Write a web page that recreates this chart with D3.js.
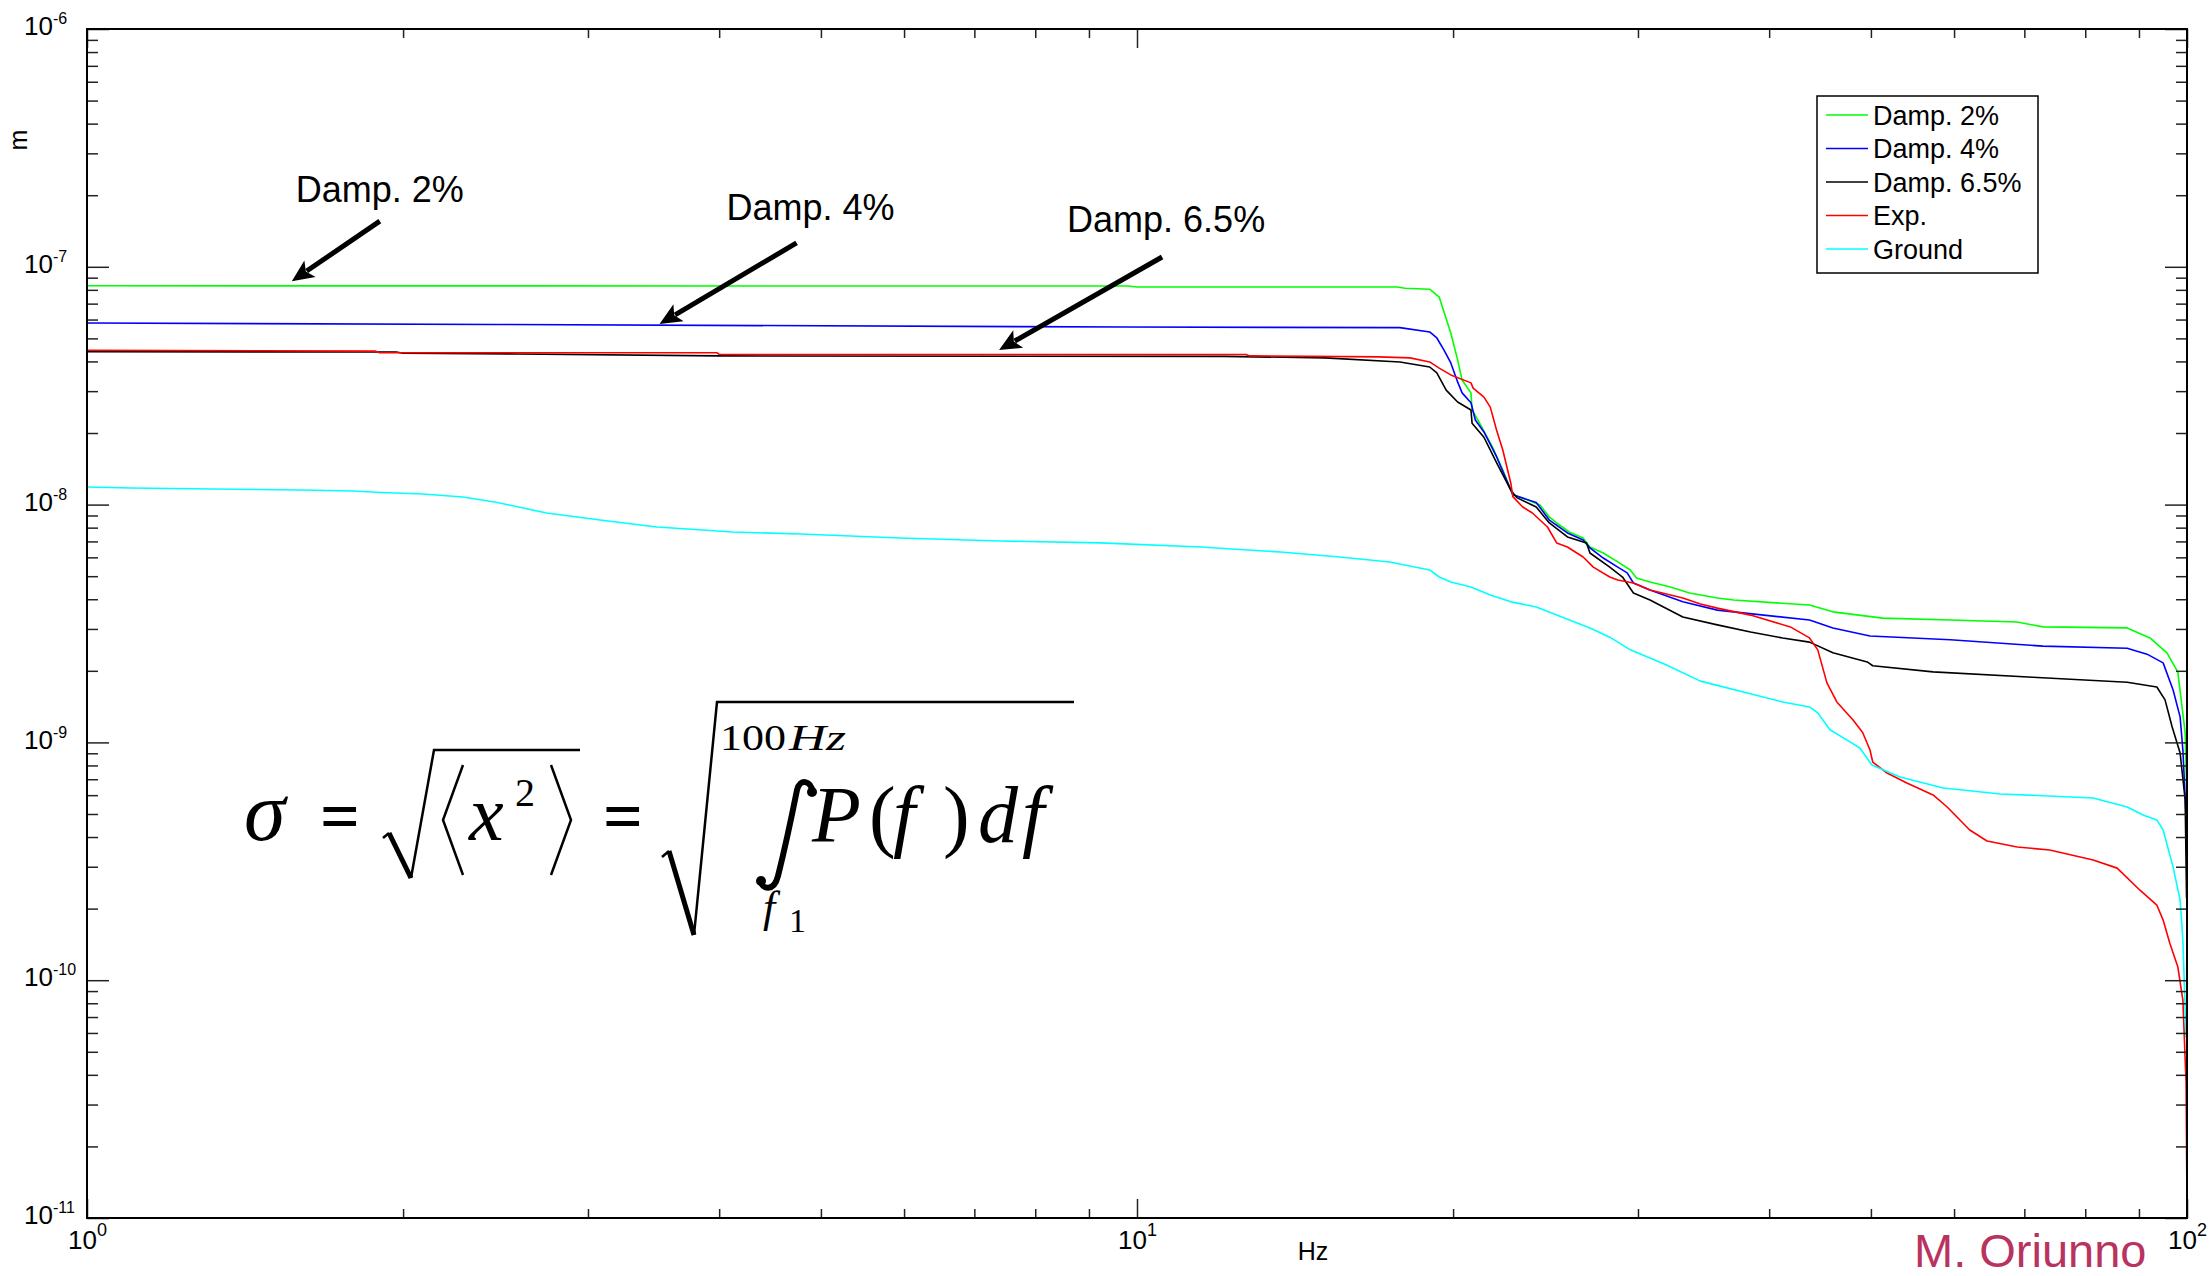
<!DOCTYPE html>
<html>
<head>
<meta charset="utf-8">
<script src="https://cdn.jsdelivr.net/npm/d3@7"></script>
<style>
    body { margin: 0; background: #fff; }
    svg text { font-family: "Liberation Sans", Arial, Helvetica, sans-serif; }
</style>
</head>
<body>
<div id="chart"></div>
<script>
// Each series: [frequency (Hz), integrated rms displacement (m)]
const damp2 = [[1,8.32e-8],[9.8,8.30e-8],[10.0,8.22e-8],[17.7,8.22e-8],[18.0,8.12e-8],[19.0,8.05e-8],[19.4,7.46e-8],[19.9,5.27e-8],[20.2,4.06e-8],[20.4,3.34e-8],[20.8,2.95e-8],[20.85,2.50e-8],[21.2,2.20e-8],[21.8,1.75e-8],[22.3,1.40e-8],[22.8,1.10e-8],[23.5,1.05e-8],[24.2,9.96e-9],[24.7,8.87e-9],[25.1,8.37e-9],[25.8,7.67e-9],[26.6,7.24e-9],[27.0,6.63e-9],[27.8,6.26e-9],[28.7,5.74e-9],[29.5,5.31e-9],[29.9,4.91e-9],[30.8,4.73e-9],[32.2,4.50e-9],[33.6,4.25e-9],[35.7,4.05e-9],[37.0,3.97e-9],[43.7,3.78e-9],[46.0,3.54e-9],[51.3,3.33e-9],[59.5,3.27e-9],[68.9,3.21e-9],[72.9,3.06e-9],[87.7,3.03e-9],[92.2,2.75e-9],[95.7,2.38e-9],[98.0,1.98e-9],[99.6,1.10e-9],[99.9,6.5e-10]];
const damp4 = [[1,5.80e-8],[2.45,5.72e-8],[9.8,5.58e-8],[17.8,5.55e-8],[19.0,5.32e-8],[19.3,5.02e-8],[19.6,4.47e-8],[19.9,3.94e-8],[20.2,3.28e-8],[20.4,2.95e-8],[20.8,2.68e-8],[21.0,2.27e-8],[21.4,2.02e-8],[22.0,1.59e-8],[22.7,1.15e-8],[22.8,1.10e-8],[24.0,1.02e-8],[24.7,8.61e-9],[25.7,7.60e-9],[26.6,7.10e-9],[27.0,6.57e-9],[27.8,5.96e-9],[28.7,5.46e-9],[29.3,5.16e-9],[29.7,4.68e-9],[30.8,4.37e-9],[33.1,3.90e-9],[35.7,3.60e-9],[37.0,3.54e-9],[43.7,3.27e-9],[46.0,3.03e-9],[49.9,2.80e-9],[59.5,2.70e-9],[72.9,2.54e-9],[87.7,2.49e-9],[91.6,2.35e-9],[94.9,2.16e-9],[97.0,1.66e-9],[98.5,1.28e-9],[99.1,9.29e-10],[99.8,4.86e-10],[99.9,3.5e-10]];
const damp65 = [[1,4.40e-8],[1.97,4.38e-8],[2.0,4.33e-8],[2.57,4.30e-8],[4.0,4.22e-8],[12.1,4.20e-8],[15.1,4.14e-8],[17.8,3.98e-8],[19.0,3.79e-8],[19.3,3.58e-8],[19.7,3.03e-8],[20.2,2.70e-8],[20.8,2.50e-8],[20.85,2.20e-8],[21.4,1.92e-8],[22.0,1.50e-8],[22.7,1.15e-8],[23.0,1.07e-8],[24.0,9.77e-9],[24.7,8.37e-9],[25.7,7.31e-9],[26.8,6.90e-9],[27.0,6.26e-9],[28.2,5.46e-9],[29.0,4.96e-9],[29.7,4.25e-9],[30.8,3.97e-9],[33.1,3.37e-9],[35.7,3.12e-9],[38.4,2.91e-9],[41.2,2.75e-9],[43.7,2.64e-9],[46.0,2.38e-9],[49.6,2.18e-9],[50.2,2.10e-9],[57.3,1.98e-9],[71.3,1.88e-9],[87.7,1.79e-9],[93.6,1.71e-9],[95.3,1.51e-9],[96.8,1.16e-9],[98.5,9.03e-10],[99.6,5.73e-10],[99.9,2.22e-10]];
const expData = [[1,4.46e-8],[1.88,4.42e-8],[1.9,4.35e-8],[3.98,4.35e-8],[4.0,4.28e-8],[12.7,4.28e-8],[12.8,4.22e-8],[17.0,4.18e-8],[18.2,4.14e-8],[19.0,3.98e-8],[19.4,3.75e-8],[19.9,3.51e-8],[20.8,3.25e-8],[20.9,3.09e-8],[21.4,2.83e-8],[21.7,2.57e-8],[22.0,2.06e-8],[22.3,1.70e-8],[22.7,1.23e-8],[22.8,1.08e-8],[23.3,9.77e-9],[23.8,9.22e-9],[24.6,8.05e-9],[25.1,6.90e-9],[25.7,6.63e-9],[26.6,6.02e-9],[27.2,5.46e-9],[28.2,4.96e-9],[28.7,4.82e-9],[29.7,4.68e-9],[30.8,4.37e-9],[33.1,4.05e-9],[34.4,3.82e-9],[35.7,3.67e-9],[38.4,3.43e-9],[41.9,3.06e-9],[43.7,2.75e-9],[44.5,2.45e-9],[45.4,1.78e-9],[46.4,1.48e-9],[48.1,1.24e-9],[49.1,1.10e-9],[49.9,9.29e-10],[50.2,8.27e-10],[51.8,7.43e-10],[54.1,6.75e-10],[57.3,6.01e-10],[59.1,5.35e-10],[62.1,4.28e-10],[64.5,3.85e-10],[68.9,3.63e-10],[74.0,3.53e-10],[81.4,3.20e-10],[85.8,2.96e-10],[90.2,2.39e-10],[93.6,2.07e-10],[94.9,1.79e-10],[96.3,1.43e-10],[98.0,1.14e-10],[99.1,8.25e-11],[99.8,3.69e-11],[99.95,1.52e-11]];
const ground = [[1,1.186e-8],[1.10,1.174e-8],[1.32,1.163e-8],[1.60,1.152e-8],[1.79,1.141e-8],[1.91,1.124e-8],[2.09,1.108e-8],[2.28,1.076e-8],[2.46,1.02e-8],[2.74,9.22e-9],[3.08,8.61e-9],[3.49,8.05e-9],[4.12,7.67e-9],[4.78,7.52e-9],[5.95,7.24e-9],[7.40,7.03e-9],[9.22,6.90e-9],[11.5,6.63e-9],[13.7,6.32e-9],[15.6,6.02e-9],[17.4,5.74e-9],[19.0,5.31e-9],[19.4,4.96e-9],[19.9,4.73e-9],[20.8,4.50e-9],[21.7,4.17e-9],[22.7,3.90e-9],[24.0,3.71e-9],[25.1,3.43e-9],[27.0,3.03e-9],[28.2,2.77e-9],[29.5,2.45e-9],[31.9,2.12e-9],[34.4,1.81e-9],[41.2,1.48e-9],[43.7,1.41e-9],[44.5,1.33e-9],[45.7,1.13e-9],[47.5,1.02e-9],[48.8,9.47e-10],[50.1,8.04e-10],[53.3,7.15e-10],[58.6,6.43e-10],[66.4,6.07e-10],[81.4,5.84e-10],[87.7,5.35e-10],[90.8,4.95e-10],[93.6,4.72e-10],[94.9,4.28e-10],[97.0,2.99e-10],[98.5,2.17e-10],[99.1,1.48e-10],[99.8,5.71e-11]];

const seriesNames = ["Damp. 2%", "Damp. 4%", "Damp. 6.5%", "Exp.", "Ground"];
const seriesData = [damp2, damp4, damp65, expData, ground];
const seriesColors = ["#00ff00", "#0000ff", "#000000", "#ff0000", "#00ffff"];

const freqDomain = [1, 100];
const ampDomain = [1e-11, 1e-6];
const freqMajorTicks = [1, 10, 100];
const ampMajorTicks = [1e-11, 1e-10, 1e-9, 1e-8, 1e-7, 1e-6];

// Arrow callouts: tip sits on a curve (data coords), text and tail are pixel offsets
const callouts = [
    { label: "Damp. 2%", f: 1.567, v: 8.7e-8, tail: [88, -60], text: [4, -79] },
    { label: "Damp. 4%", f: 3.51, v: 5.75e-8, tail: [137, -81], text: [67, -104] },
    { label: "Damp. 6.5%", f: 7.39, v: 4.47e-8, tail: [163, -93], text: [68, -118] }
];

class RmsChart {
    constructor(parentElement) {
        this.parentElement = parentElement;
        this.initVis();
    }

    initVis() {
        const vis = this;

        vis.MARGIN = { LEFT: 87, RIGHT: 23, TOP: 29, BOTTOM: 58 };
        vis.WIDTH = 2210 - vis.MARGIN.LEFT - vis.MARGIN.RIGHT;
        vis.HEIGHT = 1276 - vis.MARGIN.TOP - vis.MARGIN.BOTTOM;

        vis.root = d3.select(vis.parentElement).append("svg")
            .attr("width", 2210)
            .attr("height", 1276);

        vis.svg = vis.root.append("g")
            .attr("transform", `translate(${vis.MARGIN.LEFT}, ${vis.MARGIN.TOP})`);

        vis.x = d3.scaleLog().domain(freqDomain).range([0, vis.WIDTH]);
        vis.y = d3.scaleLog().domain(ampDomain).range([vis.HEIGHT, 0]);

        vis.addLines();
        vis.addAxes();
        vis.addLegend();
        vis.addCallouts();
        vis.addFormula();
    }

    minorTicks(domain) {
        const out = [];
        for (let e = Math.round(Math.log10(domain[0])); e < Math.round(Math.log10(domain[1])); e++) {
            for (let k = 2; k <= 9; k++) out.push(k * Math.pow(10, e));
        }
        return out;
    }

    supLabel(sel, supSize, rise) {
        sel.selectAll(".tick text").each(function (d) {
            const t = d3.select(this);
            t.text("");
            t.append("tspan").text("10");
            t.append("tspan")
                .attr("dy", -rise)
                .style("font-size", supSize + "px")
                .text(Math.round(Math.log10(d)));
        });
    }

    addAxes() {
        const vis = this;
        const xMinor = vis.minorTicks(freqDomain);
        const yMinor = vis.minorTicks(ampDomain);

        const styleAxis = g => {
            g.select(".domain").remove();
            g.selectAll(".tick line").attr("stroke", "#222").attr("stroke-width", 1.5);
        };

        // minor ticks, inward on all four sides
        vis.svg.append("g").attr("transform", `translate(0,${vis.HEIGHT})`)
            .call(d3.axisBottom(vis.x).tickValues(xMinor).tickSize(-9).tickFormat(""))
            .call(styleAxis);
        vis.svg.append("g")
            .call(d3.axisTop(vis.x).tickValues(xMinor).tickSize(-9).tickFormat(""))
            .call(styleAxis);
        vis.svg.append("g")
            .call(d3.axisLeft(vis.y).tickValues(yMinor).tickSize(-11).tickFormat(""))
            .call(styleAxis);
        vis.svg.append("g").attr("transform", `translate(${vis.WIDTH},0)`)
            .call(d3.axisRight(vis.y).tickValues(yMinor).tickSize(-11).tickFormat(""))
            .call(styleAxis);

        // major ticks
        const xAxis = vis.svg.append("g")
            .attr("class", "x-axis")
            .attr("transform", `translate(0,${vis.HEIGHT})`)
            .call(d3.axisBottom(vis.x).tickValues(freqMajorTicks).tickSize(-19).tickPadding(13))
            .call(styleAxis);
        xAxis.selectAll(".tick text").style("font-size", "26px").attr("fill", "#000");
        vis.supLabel(xAxis, 18, 13);

        vis.svg.append("g")
            .call(d3.axisTop(vis.x).tickValues(freqMajorTicks).tickSize(-19).tickFormat(""))
            .call(styleAxis);

        const yAxis = vis.svg.append("g")
            .attr("class", "y-axis")
            .call(d3.axisLeft(vis.y).tickValues(ampMajorTicks).tickSize(-22))
            .call(styleAxis);
        yAxis.selectAll(".tick text")
            .style("font-size", "26px")
            .attr("fill", "#000")
            .attr("x", -63)
            .attr("dy", "0.22em")
            .style("text-anchor", "start");
        vis.supLabel(yAxis, 16, 11);

        vis.svg.append("g").attr("transform", `translate(${vis.WIDTH},0)`)
            .call(d3.axisRight(vis.y).tickValues(ampMajorTicks).tickSize(-22).tickFormat(""))
            .call(styleAxis);

        // box
        vis.svg.append("rect")
            .attr("width", vis.WIDTH)
            .attr("height", vis.HEIGHT)
            .attr("fill", "none")
            .attr("stroke", "#000")
            .attr("stroke-width", 2);

        vis.svg.append("text")
            .attr("class", "axis-title")
            .attr("transform", "rotate(-90)")
            .attr("x", -111)
            .attr("y", -60)
            .style("text-anchor", "middle")
            .style("font-size", "25px")
            .text("m");

        vis.svg.append("text")
            .attr("class", "axis-title")
            .attr("x", 1226)
            .attr("y", vis.HEIGHT + 42)
            .style("text-anchor", "middle")
            .style("font-size", "25px")
            .text("Hz");

        vis.root.append("text")
            .attr("x", 1914)
            .attr("y", 1267)
            .style("font-size", "47px")
            .attr("fill", "#b8335f")
            .text("M. Oriunno");
    }

    addLines() {
        const vis = this;
        const line = d3.line()
            .x(d => vis.x(d[0]))
            .y(d => vis.y(d[1]));

        vis.svg.selectAll("path.series")
            .data(seriesData)
            .join("path")
            .attr("class", "series")
            .attr("fill", "none")
            .attr("stroke", (d, i) => seriesColors[i])
            .attr("stroke-width", 1.6)
            .attr("stroke-linejoin", "round")
            .attr("d", line);
    }

    addLegend() {
        const vis = this;
        const legend = vis.svg.append("g")
            .attr("class", "legend-group")
            .attr("transform", "translate(1730, 67)");

        legend.append("rect")
            .attr("width", 221)
            .attr("height", 177)
            .attr("fill", "#fff")
            .attr("stroke", "#000")
            .attr("stroke-width", 1.5);

        legend.selectAll(".legend")
            .data(seriesNames)
            .join("g")
            .attr("class", "legend")
            .attr("transform", (d, i) => `translate(0, ${19 + i * 33.5})`)
            .each(function (d, i) {
                const item = d3.select(this);
                item.append("line")
                    .attr("x1", 9).attr("x2", 51)
                    .attr("stroke", seriesColors[i])
                    .attr("stroke-width", 1.6);
                item.append("text")
                    .attr("x", 56)
                    .attr("dy", "0.36em")
                    .style("font-size", "27px")
                    .text(d);
            });
    }

    addCallouts() {
        const vis = this;
        const g = vis.svg.append("g").attr("class", "callouts");

        callouts.forEach(c => {
            const tx = vis.x(c.f), ty = vis.y(c.v);
            const sx = tx + c.tail[0], sy = ty + c.tail[1];
            const len = Math.hypot(tx - sx, ty - sy);
            const ux = (tx - sx) / len, uy = (ty - sy) / len;
            const head = 22, half = 10;
            const bx = tx - ux * head, by = ty - uy * head;

            g.append("line")
                .attr("x1", sx).attr("y1", sy)
                .attr("x2", bx + ux * 4).attr("y2", by + uy * 4)
                .attr("stroke", "#000")
                .attr("stroke-width", 5);

            g.append("path")
                .attr("d", `M${tx},${ty} L${bx - uy * half},${by + ux * half} L${bx + ux * 5},${by + uy * 5} L${bx + uy * half},${by - ux * half} Z`)
                .attr("fill", "#000");

            g.append("text")
                .attr("x", tx + c.text[0])
                .attr("y", ty + c.text[1])
                .style("font-size", "36px")
                .text(c.label);
        });
    }

    addFormula() {
        const vis = this;
        const f = vis.root.append("g").attr("class", "formula");
        const serif = '"Liberation Serif", "Times New Roman", serif';

        const txt = (x, y, size, s, italic, bold) => f.append("text")
            .attr("x", x).attr("y", y)
            .style("font-size", size + "px")
            .style("font-family", serif)
            .style("font-style", italic ? "italic" : "normal")
            .style("font-weight", bold ? "bold" : "normal")
            .text(s);
        const stroke = (d, w) => f.append("path")
            .attr("d", d).attr("fill", "none")
            .attr("stroke", "#000").attr("stroke-width", w)
            .attr("stroke-linejoin", "miter");

        txt(244, 840, 84, "σ", true);
        txt(320, 840, 70, "=", false, true);

        // sqrt <x^2>
        stroke("M383,838 L389,833", 2.5);
        stroke("M389,833 L411,878", 5);
        stroke("M411,878 L434,750 L580,750", 2.5);
        stroke("M463,765 L443,820 L463,875", 2.5);
        stroke("M551,765 L571,820 L551,875", 2.5);
        txt(469, 840, 78, "x", true);
        txt(515, 806, 40, "2");

        txt(603, 840, 70, "=", false, true);

        // sqrt of integral
        stroke("M662,857 L669,851", 2.5);
        stroke("M669,851 L694,935", 5);
        stroke("M694,935 L717,702 L1074,702", 2.5);
        txt(720, 750, 36, "100").attr("textLength", 66).attr("lengthAdjust", "spacingAndGlyphs");
        txt(789, 750, 36, "Hz", true).attr("textLength", 57).attr("lengthAdjust", "spacingAndGlyphs");

        stroke("M813,793 C811,780 800,778 797,790 C793,810 782,860 778,876 C774,892 762,890 760,880", 6)
            .attr("stroke-linecap", "round");
        f.append("circle").attr("cx", 812).attr("cy", 792).attr("r", 5);
        f.append("circle").attr("cx", 761).attr("cy", 881).attr("r", 5);

        txt(763, 922, 44, "f", true);
        txt(789, 932, 34, "1");

        txt(812, 842, 80, "P", true);
        txt(869, 842, 80, "(");
        txt(893, 842, 80, "f", true);
        txt(943, 842, 80, ")");
        txt(978, 842, 80, "d", true);
        txt(1022, 842, 80, "f", true);
    }
}

new RmsChart("#chart");
</script>
</body>
</html>
